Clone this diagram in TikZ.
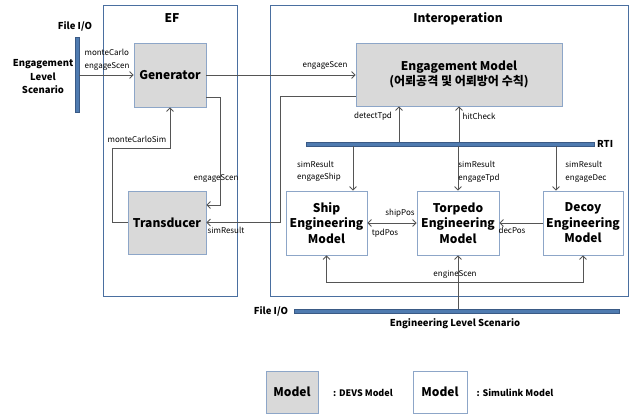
\documentclass[tikz,border=0pt]{standalone}
\usepackage{fontspec}
\setmainfont{Noto Sans CJK KR}
\usetikzlibrary{arrows.meta,calc}
\definecolor{outerblue}{HTML}{4A6FA0}
\definecolor{boxblue}{HTML}{8DA6C8}
\definecolor{barblue}{HTML}{4F7BB0}
\definecolor{bardark}{HTML}{3A5A85}
\definecolor{devs}{HTML}{D9D9D9}
\definecolor{conn}{HTML}{555555}
\tikzset{
  outer/.style={draw=outerblue, line width=1pt},
  devsbox/.style={draw=boxblue, fill=devs, line width=0.8pt, inner sep=0pt, font=\bfseries\fontsize{12}{15.5}\selectfont, align=center},
  simbox/.style={draw=boxblue, fill=white, line width=0.8pt, inner sep=0pt, font=\bfseries\fontsize{12}{15.5}\selectfont, align=center},
  bar/.style={draw=bardark, fill=barblue, line width=0.5pt, inner sep=0pt},
  arr/.style={draw=conn, line width=0.8pt, -{Straight Barb[length=3.5pt,width=7pt]}},
  dblarr/.style={draw=conn, line width=0.8pt, {Straight Barb[length=3.5pt,width=7pt]}-{Straight Barb[length=3.5pt,width=7pt]}},
  plain/.style={draw=conn, line width=0.8pt},
  lbl/.style={font=\fontsize{8}{12.5}\selectfont, inner sep=0pt, align=left},
  title/.style={font=\bfseries\fontsize{12}{14}\selectfont, inner sep=0pt},
  sub/.style={font=\bfseries\fontsize{9.5}{13.5}\selectfont, inner sep=0pt, align=center},
}
\begin{document}
\begin{tikzpicture}[x=1pt,y=-1pt]
\useasboundingbox (0,0) rectangle (634,415);
% outer containers
\draw[outer] (103,5) rectangle (237,296);
\draw[outer] (270,5) rectangle (628,296);
\node[title] (eftitle) at (172,18) {EF};
\node[title] (iotitle) at (458,19) {Interoperation};
% bars
\node[bar, minimum width=4pt, minimum height=75pt] (lbar) at (77,74.5) {};
\node[bar, minimum width=288pt, minimum height=4pt] (rti) at (450,144) {};
\node[bar, minimum width=325pt, minimum height=4pt] (bbar) at (456.5,311) {};
% side texts
\node[sub] (fio1) at (75,26) {File I/O};
\node[sub] (els) at (43,77) {Engagement\\Level\\Scenario};
\node[sub, anchor=west] (rtitxt) at (597,144) {RTI};
\node[sub] (fio2) at (271,311) {File I/O};
\node[sub] (engls) at (455,324) {Engineering Level Scenario};
% model boxes
\node[devsbox, minimum width=72pt, minimum height=64pt] (gen) at (170,75) {Generator};
\node[devsbox, minimum width=78pt, minimum height=63pt] (trans) at (167,222.5) {Transducer};
\node[devsbox, minimum width=206pt, minimum height=63pt] (eng) at (459,74.5) {Engagement Model\\(어뢰공격 및 어뢰방어 수칙)};
\node[simbox, minimum width=81pt, minimum height=64pt] (ship) at (326.5,223) {Ship\\Engineering\\Model};
\node[simbox, minimum width=82pt, minimum height=64pt] (tpd) at (458,223) {Torpedo\\Engineering\\Model};
\node[simbox, minimum width=80pt, minimum height=64pt] (dec) at (583,223) {Decoy\\Engineering\\Model};
% connectors
\draw[arr] (lbar.east |- gen.west) -- (gen.west);
\draw[arr] (gen.east) -- (eng.west |- gen.east);
\draw[arr] ([yshift=-22pt]gen.east) -- ++(14,0) |- ([yshift=17.5pt]trans.east);
\draw[arr] (trans.west) -- ++(-15,0) |- ([yshift=-41pt]gen.south) -- (gen.south);
\draw[arr] ([yshift=-21.5pt]eng.west) -- ++(-75,0) |- (trans.east);
\draw[arr] ([xshift=-60pt]eng.south |- rti.north) -- ([xshift=-60pt]eng.south);
\draw[arr] (eng.south |- rti.north) -- (eng.south);
\draw[arr] ([xshift=26.5pt]ship.north |- rti.south) -- ([xshift=26.5pt]ship.north);
\draw[arr] (tpd.north |- rti.south) -- (tpd.north);
\draw[arr] ([xshift=-27pt]dec.north |- rti.south) -- ([xshift=-27pt]dec.north);
\draw[dblarr] (ship.east) -- (tpd.west);
\draw[arr] (dec.west) -- (tpd.east);
\draw[arr] (tpd.south |- bbar.north) -- (tpd.south);
\draw[arr] ([yshift=-27pt]tpd.south) -| (ship.south);
\draw[arr] ([yshift=-27pt]tpd.south) -| (dec.south);
% connector labels
\node[lbl] (l1) at (107,60) {monteCarlo\\engageScen};
\node[lbl] (l2) at (325,66) {engageScen};
\node[lbl] (l3) at (216,179) {engageScen};
\node[lbl] (l4) at (137,139) {monteCarloSim};
\node[lbl] (l5) at (226,230) {simResult};
\node[lbl] (l6) at (373,116) {detectTpd};
\node[lbl] (l7) at (479,116) {hitCheck};
\node[lbl] (l8) at (319,171.5) {simResult\\engageShip};
\node[lbl] (l9) at (479,172) {simResult\\engageTpd};
\node[lbl] (l10) at (586,172) {simResult\\engageDec};
\node[lbl] (l11) at (400,213) {shipPos};
\node[lbl] (l12) at (385,233) {tpdPos};
\node[lbl] (l13) at (512,230) {decPos};
\node[lbl] (l14) at (455,274) {engineScen};
% legend
\node[devsbox, minimum width=52pt, minimum height=42pt] (lg1) at (292,392) {Model};
\node[sub, font=\bfseries\fontsize{9}{12}\selectfont] (lg1t) at (363,393) {: DEVS Model};
\node[simbox, minimum width=54pt, minimum height=42pt] (lg2) at (440,392) {Model};
\node[sub, font=\bfseries\fontsize{9}{12}\selectfont] (lg2t) at (515,393) {: Simulink Model};
\end{tikzpicture}
\end{document}
